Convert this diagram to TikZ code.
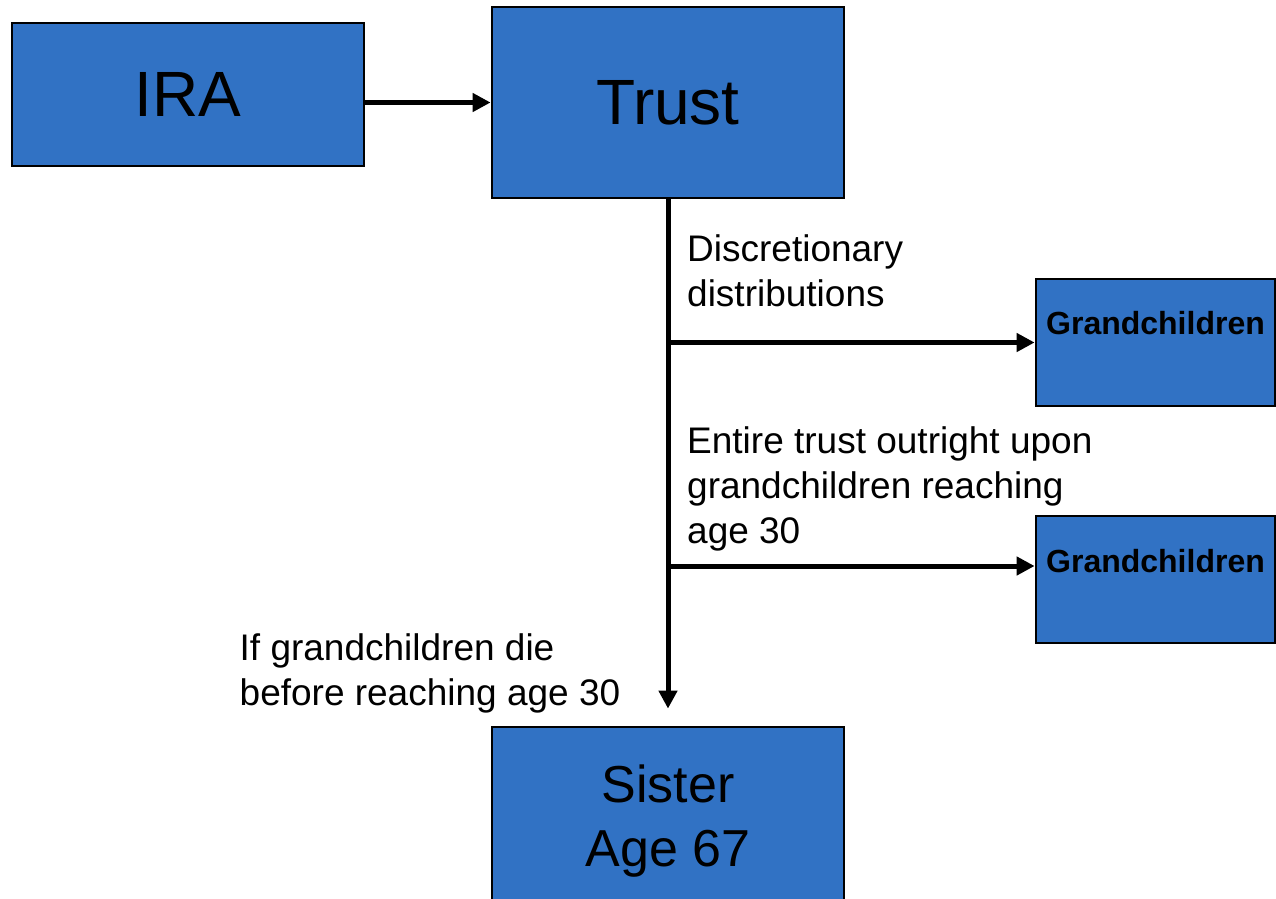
\documentclass[tikz,border=0pt]{standalone}
\usepackage{fontspec}
\setmainfont{Liberation Sans}
\usetikzlibrary{arrows.meta}
\definecolor{boxblue}{RGB}{49,114,196}
\begin{document}
\begin{tikzpicture}[x=1pt,y=-1pt,
  box/.style={draw=black, line width=2.8pt, fill=boxblue, inner sep=0pt, align=center},
  flow/.style={line width=5pt, -{Triangle[length=18pt,width=18pt]}},
  note/.style={anchor=north west, inner sep=0pt, align=left, font=\fontsize{37}{45}\selectfont},
  gc/.style={font=\fontsize{32}{38}\bfseries\selectfont, inner sep=0pt},
]
\useasboundingbox (0,0) rectangle (1276,898);
\clip (0,0) rectangle (1276,898);

% boxes
\node[box, minimum width=352pt, minimum height=143pt, font=\fontsize{64}{76}\selectfont]
  (ira) at (188,94.5) {IRA};
\node[box, minimum width=352pt, minimum height=191pt, font=\fontsize{64}{76}\selectfont]
  (trust) at (668,102.5) {Trust};
\node[box, minimum width=239pt, minimum height=127pt,
  label={[gc, anchor=north, yshift=-34pt]north:Grandchildren}]
  (gc1) at (1155.5,342.5) {};
\node[box, minimum width=239pt, minimum height=127pt,
  label={[gc, anchor=north, yshift=-34pt]north:Grandchildren}]
  (gc2) at (1155.5,579.5) {};
\node[box, minimum width=352pt, minimum height=189pt, font=\fontsize{52}{64}\selectfont]
  (sister) at (668,821.5) {Sister\\Age 67};

% connectors
\draw[flow] (ira.east |- trust.west) -- (trust.west);
\draw[flow, shorten >=17pt] (trust.south) -- (sister.north);
\coordinate (b1) at (trust.south |- gc1.west);
\coordinate (b2) at (668,566);
\draw[flow] (b1) -- (gc1.west);
\draw[flow] (b2) -- (b2 -| gc2.west);

% branch notes
\node[note] (disc) at (687,234.5) {Discretionary\\distributions};
\node[note] (entire) at (687,426) {Entire trust outright upon\\grandchildren reaching\\age 30};
\node[note] (die) at (239.5,633) {If grandchildren die\\before reaching age 30};
\end{tikzpicture}
\end{document}
